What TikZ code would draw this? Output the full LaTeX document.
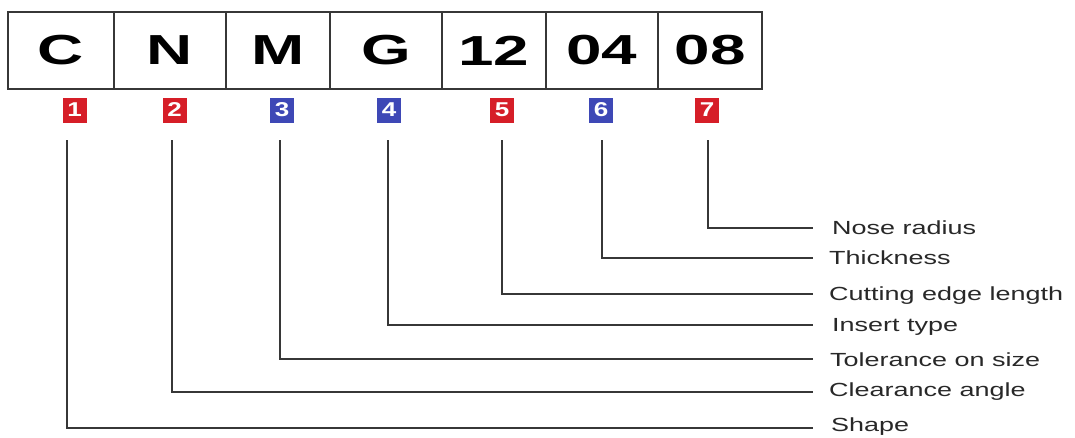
\documentclass[tikz,border=0pt]{standalone}
\usepackage{fontspec}
\setmainfont{Liberation Sans}
\definecolor{bred}{RGB}{214,30,40}
\definecolor{bblue}{RGB}{62,72,182}
\definecolor{lgray}{RGB}{55,55,55}
\definecolor{tgray}{RGB}{40,40,40}
\newcommand{\wideA}[1]{\scalebox{1.52}[1]{#1}}
\newcommand{\wideB}[1]{\scalebox{1.42}[1]{#1}}
\newcommand{\wideC}[1]{\scalebox{1.3}[1]{#1}}
\begin{document}
\begin{tikzpicture}[x=1pt,y=-1pt,
  codebox/.style={draw=lgray,line width=1.6pt,minimum height=77pt,inner sep=0pt,
    font=\fontsize{42}{42}\selectfont\bfseries,text=black},
  badge/.style={minimum width=24pt,minimum height=25pt,inner sep=0pt,text=white,
    font=\fontsize{20}{20}\selectfont\bfseries},
  lbl/.style={anchor=west,inner sep=0pt,text=tgray,font=\fontsize{19}{19}\selectfont},
  conn/.style={draw=lgray,line width=1.5pt}]
\useasboundingbox (0,0) rectangle (1075,437);
% code boxes
\node[codebox,minimum width=106pt] (c1) at (61,50.5) {\wideA{C}};
\node[codebox,minimum width=112pt] (c2) at (170,50.5) {\wideA{N}};
\node[codebox,minimum width=104pt] (c3) at (278,50.5) {\wideA{M}};
\node[codebox,minimum width=112pt] (c4) at (386,50.5) {\wideA{G}};
\node[codebox,minimum width=104pt] (c5) at (494,50.5) {\wideA{12}};
\node[codebox,minimum width=112pt] (c6) at (602,50.5) {\wideA{04}};
\node[codebox,minimum width=104pt] (c7) at (710,50.5) {\wideA{08}};
% badges
\node[badge,fill=bred]  (b1) at (74.5,110) {\wideC{1}};
\node[badge,fill=bred]  (b2) at (174.5,110) {\wideC{2}};
\node[badge,fill=bblue] (b3) at (282,110) {\wideC{3}};
\node[badge,fill=bblue] (b4) at (389,110) {\wideC{4}};
\node[badge,fill=bred]  (b5) at (502,110) {\wideC{5}};
\node[badge,fill=bblue] (b6) at (601,110) {\wideC{6}};
\node[badge,fill=bred]  (b7) at (707,110) {\wideC{7}};
% labels
\node[lbl] (t7) at (832,228) {\wideB{Nose radius}};
\node[lbl] (t6) at (829,258) {\wideB{Thickness}};
\node[lbl] (t5) at (829,296) {\wideB{Cutting edge length}};
\node[lbl] (t4) at (832,327) {\wideB{Insert type}};
\node[lbl] (t3) at (830,360) {\wideB{Tolerance on size}};
\node[lbl] (t2) at (829,392) {\wideB{Clearance angle}};
\node[lbl] (t1) at (831,427) {\wideB{Shape}};
% connector start / end points
\coordinate (s1) at (67,140);  \coordinate (e1) at (813,428);
\coordinate (s2) at (172,140); \coordinate (e2) at (813,392);
\coordinate (s3) at (280,140); \coordinate (e3) at (813,359);
\coordinate (s4) at (388,140); \coordinate (e4) at (813,325);
\coordinate (s5) at (502,140); \coordinate (e5) at (813,294);
\coordinate (s6) at (602,140); \coordinate (e6) at (813,258);
\coordinate (s7) at (708,140); \coordinate (e7) at (813,228);
\foreach \i in {1,...,7}{\draw[conn] (s\i) |- (e\i);}
\end{tikzpicture}
\end{document}
